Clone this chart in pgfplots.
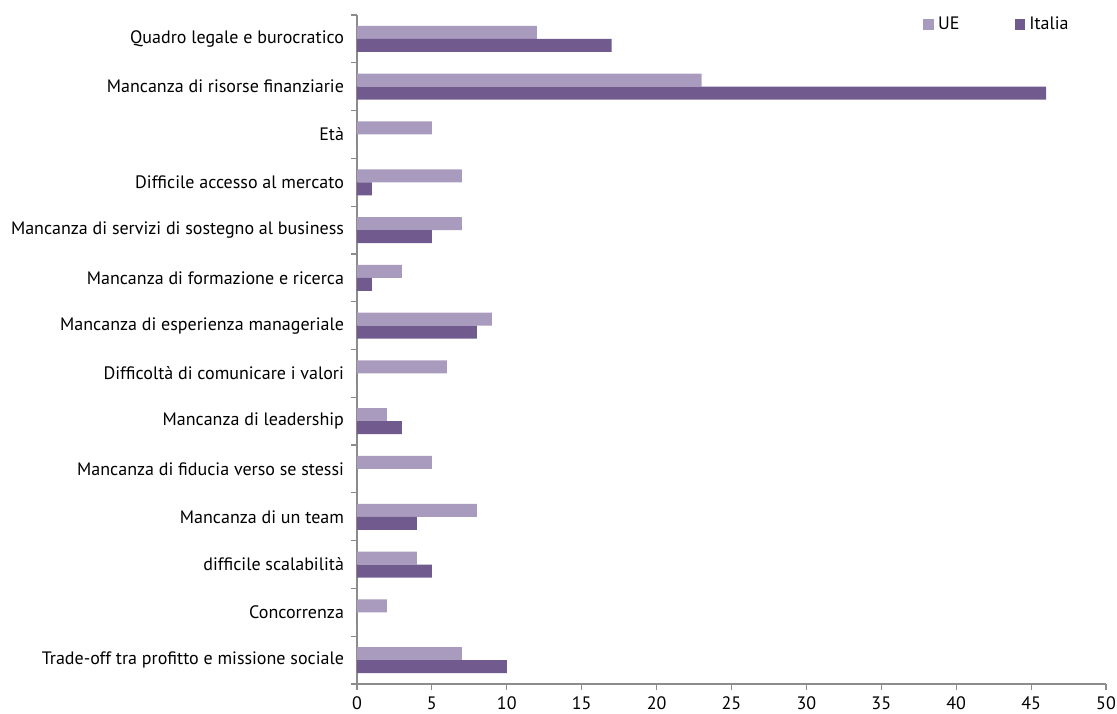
\documentclass[border=0pt]{standalone}
\usepackage{pgfplots}
\pgfplotsset{compat=1.18}
\usepackage{fontspec}
\setmainfont{PT Sans}
\usetikzlibrary{calc}
\definecolor{ue}{HTML}{A99BBE}
\definecolor{it}{HTML}{705A8E}
\definecolor{axgrey}{HTML}{8C8C8C}
\begin{document}
\begin{tikzpicture}
\begin{axis}[
  name=ax,
  scale only axis,
  width=374.5pt, height=334.5pt,
  xbar, bar width=6.5pt,
  xmin=0, xmax=50,
  xtick={0,5,...,50},
  ymin=-0.5, ymax=13.5,
  y dir=reverse,
  ytick={-0.5,0.5,...,13.5},
  y tick label as interval,
  yticklabels={Quadro legale e burocratico,Mancanza di risorse finanziarie,Età,Difficile accesso al mercato,Mancanza di servizi di sostegno al business,Mancanza di formazione e ricerca,Mancanza di esperienza manageriale,Difficoltà di comunicare i valori,Mancanza di leadership,Mancanza di fiducia verso se stessi,Mancanza di un team,difficile scalabilità,Concorrenza,Trade-off tra profitto e missione sociale},
  axis x line*=bottom, axis y line*=left,
  axis line style={axgrey, line width=0.6pt},
  tick style={axgrey, line width=0.6pt},
  tick align=outside,
  major tick length=3pt,
  tick label style={font=\fontsize{9pt}{11pt}\selectfont, black},
  /pgf/number format/assume math mode=true,
  legend style={draw=none, fill=none, at={(0.964,1.01)}, anchor=north east, legend columns=2, font=\fontsize{9pt}{11pt}\selectfont, /tikz/every even column/.append style={column sep=25.5pt}},
  legend image code/.code={\fill[#1] (0pt,-2.7pt) rectangle (5.4pt,2.7pt);},
]
\addplot[fill=ue, draw=none, bar shift=3.25pt] coordinates {(12,0) (23,1) (5,2) (7,3) (7,4) (3,5) (9,6) (6,7) (2,8) (5,9) (8,10) (4,11) (2,12) (7,13)};
\addlegendentry{UE}
\addplot[fill=it, draw=none, bar shift=-3.25pt] coordinates {(17,0) (46,1) (0,2) (1,3) (5,4) (1,5) (8,6) (0,7) (3,8) (0,9) (4,10) (5,11) (0,12) (10,13)};
\addlegendentry{Italia}
\end{axis}
\pgfresetboundingbox
\useasboundingbox ($(ax.south west)+(-178.5pt,-14.5pt)$) rectangle ($(ax.north east)+(5.5pt,7.5pt)$);
\end{tikzpicture}
\end{document}
